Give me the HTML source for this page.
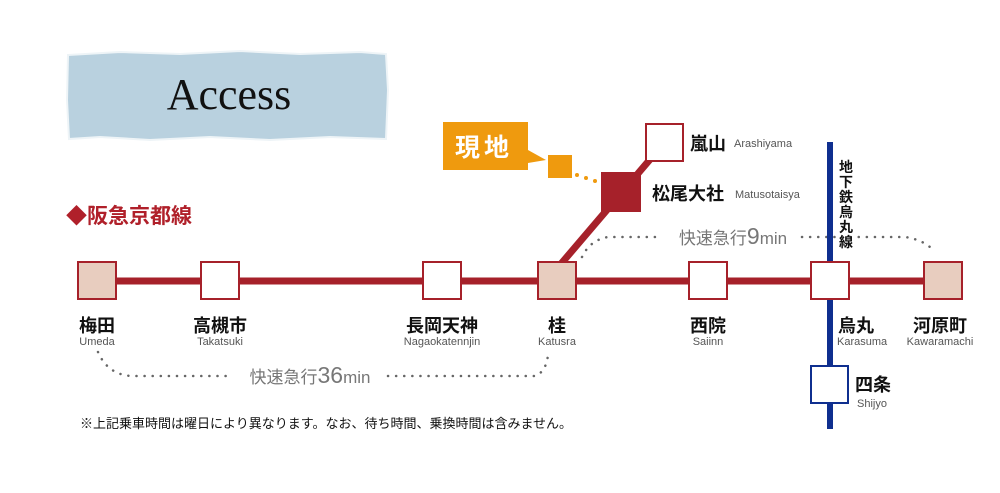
<!DOCTYPE html>
<html><head><meta charset="utf-8"><style>
html,body{margin:0;padding:0;background:#fff}
svg{display:block}
.jp{font-family:"Liberation Sans","Noto Sans CJK JP",sans-serif}
</style></head><body>
<svg width="1000" height="493" viewBox="0 0 1000 493" xmlns="http://www.w3.org/2000/svg" class="jp">
<path d="M68,55 L120,52 L180,54 L240,51 L300,54 L360,52 L386,54 L388,90 L386,139 L330,137 L270,140 L210,137 L150,140 L100,137 L69,139 L67,100 Z" fill="#b9d1df" stroke="#eef4f7" stroke-width="2"/>
<text x="229" y="109" font-family="Liberation Serif,serif" font-size="44" text-anchor="middle" fill="#111">Access</text>
<text x="66" y="223" font-size="21" font-weight="bold" fill="#b0202a">◆阪急京都線</text>

<path d="M582,257 Q590,240 608,237 L662,237" fill="none" stroke="#666" stroke-width="2.5" stroke-dasharray="0.1 8" stroke-linecap="round"/>
<path d="M802,237 L905,237 Q925,240 935,252" fill="none" stroke="#666" stroke-width="2.5" stroke-dasharray="0.1 8" stroke-linecap="round"/>
<text x="733" y="244" font-size="17" fill="#777" text-anchor="middle">快速急行<tspan font-size="23">9</tspan>min</text>
<path d="M98,352 Q108,375 132,376 L232,376" fill="none" stroke="#666" stroke-width="2.5" stroke-dasharray="0.1 8" stroke-linecap="round"/>
<path d="M388,376 L535,376 Q546,372 548,355" fill="none" stroke="#666" stroke-width="2.5" stroke-dasharray="0.1 8" stroke-linecap="round"/>
<text x="310" y="383" font-size="17" fill="#777" text-anchor="middle">快速急行<tspan font-size="23">36</tspan>min</text>

<line x1="830" y1="142" x2="830" y2="429" stroke="#0f2f8f" stroke-width="6"/>
<text font-size="14" fill="#111" font-weight="bold">
<tspan x="839" y="172">地</tspan><tspan x="839" y="187">下</tspan><tspan x="839" y="202">鉄</tspan><tspan x="839" y="217">烏</tspan><tspan x="839" y="232">丸</tspan><tspan x="839" y="247">線</tspan></text>

<line x1="98" y1="281" x2="944" y2="281" stroke="#a6212a" stroke-width="7"/>
<line x1="560" y1="265" x2="664" y2="143" stroke="#a6212a" stroke-width="7"/>

<g stroke="#a6212a" stroke-width="2">
<rect x="78" y="262" width="38" height="37" fill="#e8cdbf"/>
<rect x="201" y="262" width="38" height="37" fill="#fff"/>
<rect x="423" y="262" width="38" height="37" fill="#fff"/>
<rect x="538" y="262" width="38" height="37" fill="#e8cdbf"/>
<rect x="689" y="262" width="38" height="37" fill="#fff"/>
<rect x="811" y="262" width="38" height="37" fill="#fff"/>
<rect x="924" y="262" width="38" height="37" fill="#e8cdbf"/>
<rect x="646" y="124" width="37" height="37" fill="#fff"/>
<rect x="602" y="173" width="38" height="38" fill="#a6212a"/>
</g>
<rect x="811" y="366" width="37" height="37" fill="#fff" stroke="#0f2f8f" stroke-width="2"/>

<path d="M443,122 L528,122 L528,150 L546,160 L528,163 L528,170 L443,170 Z" fill="#ef9a0e"/>
<text x="484" y="156" font-size="25" font-weight="bold" fill="#fff" text-anchor="middle" letter-spacing="4">現地</text>
<rect x="548" y="155" width="24" height="23" fill="#ef9a0e"/>
<circle cx="577" cy="175" r="2" fill="#ef9a0e"/><circle cx="586" cy="178" r="2" fill="#ef9a0e"/><circle cx="595" cy="181" r="2" fill="#ef9a0e"/>

<g font-size="18" font-weight="bold" fill="#111" text-anchor="middle">
<text x="97" y="332">梅田</text>
<text x="220" y="332">高槻市</text>
<text x="442" y="332">長岡天神</text>
<text x="557" y="332">桂</text>
<text x="708" y="332">西院</text>
<text x="940" y="332">河原町</text>
</g>
<g font-size="11" fill="#555" text-anchor="middle">
<text x="97" y="345">Umeda</text>
<text x="220" y="345">Takatsuki</text>
<text x="442" y="345">Nagaokatennjin</text>
<text x="557" y="345">Katusra</text>
<text x="708" y="345">Saiinn</text>
<text x="940" y="345">Kawaramachi</text>
</g>
<text x="838" y="332" font-size="18" font-weight="bold" fill="#111">烏丸</text>
<text x="837" y="345" font-size="11" fill="#555">Karasuma</text>
<text x="855" y="391" font-size="18" font-weight="bold" fill="#111">四条</text>
<text x="857" y="407" font-size="11" fill="#555">Shijyo</text>
<text x="690" y="150" font-size="18" font-weight="bold" fill="#111">嵐山</text>
<text x="734" y="147" font-size="11" fill="#555">Arashiyama</text>
<text x="652" y="200" font-size="18" font-weight="bold" fill="#111">松尾大社</text>
<text x="735" y="198" font-size="11" fill="#555">Matusotaisya</text>

<text x="80" y="428" font-size="13" fill="#111">※上記乗車時間は曜日により異なります。なお、待ち時間、乗換時間は含みません。</text>
</svg>
</body></html>
